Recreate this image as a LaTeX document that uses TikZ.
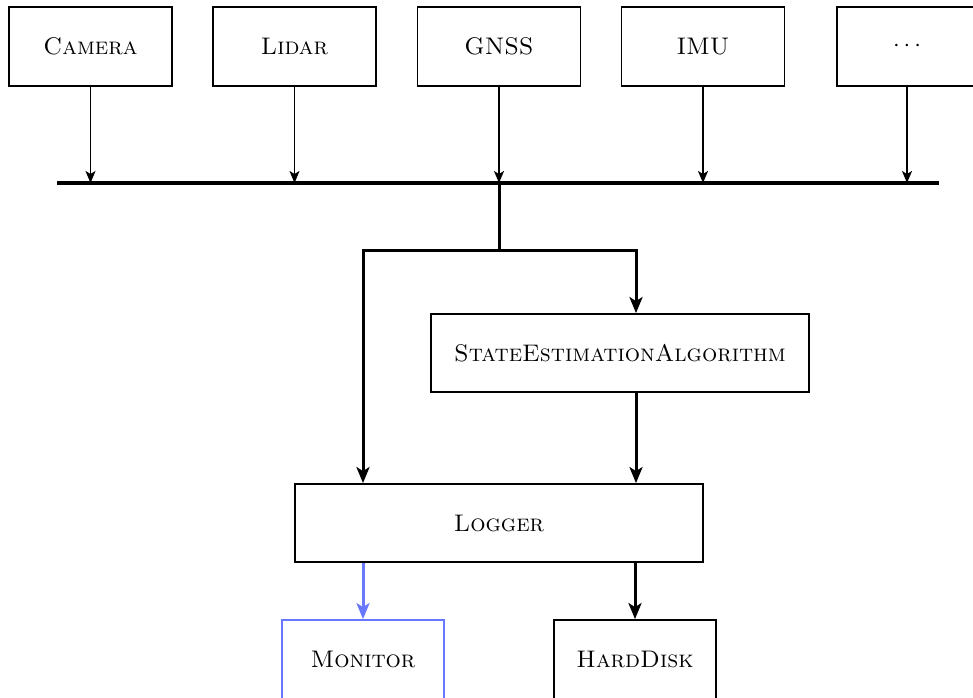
\documentclass[tikz,border=0pt]{standalone}
\usetikzlibrary{arrows.meta}
\definecolor{monblue}{RGB}{105,120,255}
\begin{document}
\begin{tikzpicture}[x=0.5pt,y=-0.5pt,
  box/.style={draw,line width=0.9pt,inner sep=0pt,align=center,
    font=\fontsize{12}{14}\selectfont\scshape},
  sensor/.style={box,minimum width=81.5pt,minimum height=39.5pt},
  feed/.style={line width=0.8pt,-{Stealth[length=6pt,width=5pt,inset=1.5pt]}},
  flow/.style={line width=1.5pt,-{Stealth[length=8pt,width=6.5pt,inset=2pt]}},
  busline/.style={line width=2pt}]
\useasboundingbox (0,0) rectangle (973,697);

% sensors
\node[sensor] (cam)  at (90.5,46.5) {Camera};
\node[sensor] (lid)  at (294.5,46.5) {Lidar};
\node[sensor] (gnss) at (499,46.5) {GNSS};
\node[sensor] (imu)  at (703,46.5) {IMU};
\node[sensor,minimum width=70pt] (more) at (907,46.5) {$\cdots$};

% shared data bus
\coordinate (busL) at (57,183);
\coordinate (busR) at (939,183);
\draw[busline] (busL) -- (busR);
\foreach \s in {cam,lid,gnss,imu,more}
  \draw[feed] (\s.south) -- (\s |- busL);

% processing
\node[box,minimum width=189pt,minimum height=39pt] (sea) at (620,353) {StateEstimationAlgorithm};
\node[box,minimum width=204pt,minimum height=39pt] (log) at (499,523) {Logger};
\node[box,draw=monblue,minimum width=81pt,minimum height=39.5pt] (mon) at (363,659.5) {Monitor};
\node[box,minimum width=81pt,minimum height=39.5pt] (hd) at (635,659.5) {HardDisk};

\coordinate (tap) at (499,183);
\coordinate (split) at (499,250);
\coordinate (colL) at (363,250);
\coordinate (colR) at (636,250);

\draw[line width=1.5pt] (tap) -- (split);
\draw[flow] (split) -- (colL) -- (colL |- log.north);
\draw[flow] (split) -- (colR) -- (colR |- sea.north);
\draw[flow] (colR |- sea.south) -- (colR |- log.north);
\draw[flow,draw=monblue,fill=monblue] (mon |- log.south) -- (mon.north);
\draw[flow] (hd |- log.south) -- (hd.north);
\end{tikzpicture}
\end{document}
